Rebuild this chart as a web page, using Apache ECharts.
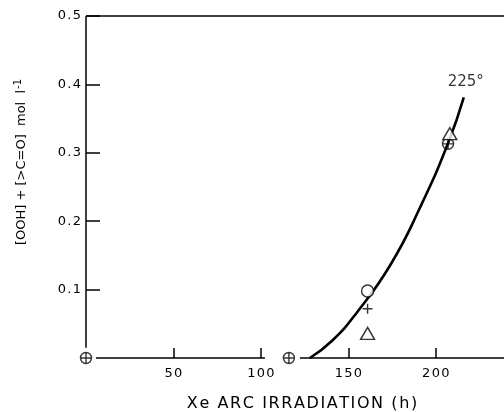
<!DOCTYPE html>
<html>
<head>
<meta charset="utf-8">
<script src="https://cdn.jsdelivr.net/npm/echarts@6/dist/echarts.min.js"></script>
<style>html,body{margin:0;padding:0;background:#fff}#c{width:504px;height:412px}</style>
</head>
<body>
<div id="c"></div>
<script>
// Data (hours, mol/l)
const curveX = [128, 141, 155, 174, 191, 207, 216];
const curveY = [0, 0.026, 0.067, 0.136, 0.22, 0.314, 0.381];
const curveLabel = '225°';
const oplusPts = [[0, 0], [116, 0], [207, 0.313]];
const circlePts = [[161, 0.098]];
const plusPts = [[161, 0.072]];
const trianglePts = [[161, 0.036], [208, 0.328]];
const xTicks = [50, 100, 150, 200];
const yTicks = [0.1, 0.2, 0.3, 0.4, 0.5];
const xAxisSegs = [[[5.7, 0], [102.3, 0]], [[122.3, 0], [239, 0]]];
const yAxisSeg = [[0, 0.015], [0, 0.5]];
const topSeg = [[0, 0.5], [239, 0.5]];
const xTitle = 'Xe ARC IRRADIATION (h)';

const chart = echarts.init(document.getElementById('c'));
const font = 'DejaVu Sans';
const spaced = s => String(s).split('').join('\u200A');
const lineSeg = (d) => ({
  type: 'line', data: d, showSymbol: false, silent: true, clip: false,
  lineStyle: {color: '#000', width: 1.5}, z: 1
});
const curveData = curveX.map((x, i) => [x, curveY[i]]);
const last = curveData[curveData.length - 1];
const openStyle = {color: 'rgba(0,0,0,0)', borderColor: '#000', borderWidth: 1.4};
chart.setOption({
  animation: false,
  grid: {left: 86, right: 0, top: 16, bottom: 54},
  xAxis: {
    type: 'value', min: 0, max: 239,
    axisLine: {show: false},
    splitLine: {show: false},
    axisTick: {show: true, inside: true, length: 10, customValues: xTicks,
      lineStyle: {color: '#000', width: 1.5}},
    axisLabel: {customValues: xTicks, color: '#000', fontSize: 13, fontFamily: font, margin: 9,
      formatter: v => spaced(v)}
  },
  yAxis: {
    type: 'value', min: 0, max: 0.5, interval: 0.1,
    axisLine: {show: false},
    splitLine: {show: false},
    axisTick: {show: true, inside: true, length: 14, customValues: yTicks,
      lineStyle: {color: '#000', width: 1.5}},
    axisLabel: {customValues: yTicks, color: '#000', fontSize: 13, fontFamily: font, margin: 5,
      formatter: v => spaced(v.toFixed(1))}
  },
  graphic: [{
    type: 'text', x: 22, y: 162, rotation: Math.PI / 2,
    style: {
      text: '[OOH] + [>C=O]  mol  l{s|-1}',
      rich: {s: {fontSize: 10, verticalAlign: 'top', padding: [0, 0, 8, 1], fontFamily: font, fill: '#000'}},
      fill: '#000', fontSize: 13, fontFamily: font, align: 'center', verticalAlign: 'middle'
    }
  }, {
    type: 'text', x: 302, y: 404,
    style: {text: spaced(xTitle), fill: '#000', fontSize: 16, fontFamily: font,
      align: 'center', verticalAlign: 'middle'}
  }],
  series: [
    lineSeg(xAxisSegs[0]), lineSeg(xAxisSegs[1]), lineSeg(yAxisSeg), lineSeg(topSeg),
    {type: 'line', data: curveData, smooth: true, showSymbol: false, clip: false,
      symbol: 'none', lineStyle: {color: '#000', width: 2.6}, z: 2},
    {type: 'scatter', data: [last], symbolSize: 0, silent: true, z: 4,
      label: {show: true, formatter: curveLabel, position: 'top', offset: [2, -3],
        color: '#000', fontSize: 15, fontFamily: font}},
    {type: 'scatter', data: oplusPts, symbolSize: 11, z: 3,
      symbol: 'path://M0,-5A5,5 0 1 1 0,5A5,5 0 1 1 0,-5ZM0,-5L0,5M-5,0L5,0',
      itemStyle: openStyle},
    {type: 'scatter', data: circlePts, symbol: 'circle', symbolSize: 12, z: 3,
      itemStyle: {color: '#fff', borderColor: '#000', borderWidth: 1.4}},
    {type: 'scatter', data: plusPts, symbolSize: 10, z: 3,
      symbol: 'path://M0,-5L0,5M-5,0L5,0', itemStyle: openStyle},
    {type: 'scatter', data: trianglePts, symbolSize: [14, 12], z: 3,
      symbol: 'path://M0,-6L7,6L-7,6Z', itemStyle: {color: '#fff', borderColor: '#000', borderWidth: 1.4}}
  ]
});
</script>
</body>
</html>
